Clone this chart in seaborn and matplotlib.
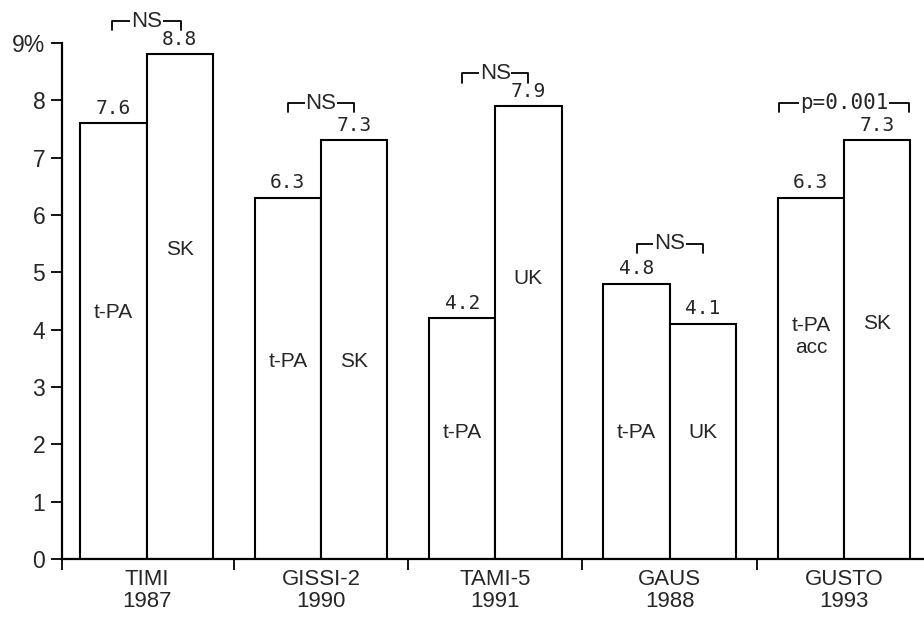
import matplotlib
matplotlib.use("Agg")
import matplotlib.pyplot as plt
import pandas as pd
import seaborn as sns

# data
trials = ["TIMI\n1987", "GISSI-2\n1990", "TAMI-5\n1991", "GAUS\n1988", "GUSTO\n1993"]
first_agent = ["t-PA", "t-PA", "t-PA", "t-PA", "t-PA\nacc"]
second_agent = ["SK", "SK", "UK", "UK", "SK"]
first_rate = [7.6, 6.3, 4.2, 4.8, 6.3]
second_rate = [8.8, 7.3, 7.9, 4.1, 7.3]
comparison = ["NS", "NS", "NS", "NS", "p=0.001"]
ytick_values = [0, 1, 2, 3, 4, 5, 6, 7, 8, 9]
ytick_labels = ["0", "1", "2", "3", "4", "5", "6", "7", "8", "9%"]

# layout only
first_label_y = [4.3, 3.45, 2.2, 2.2, 3.88]
second_label_y = [5.4, 3.45, 4.9, 2.2, 4.1]
bracket_y = [9.38, 7.95, 8.47, 5.5, 7.95]
bracket_half = [0.2, 0.19, 0.19, 0.19, 0.37]

SANS = ["Liberation Sans", "DejaVu Sans"]
MONO = ["DejaVu Sans Mono"]

sns.set_style("ticks")
plt.rcParams["font.family"] = SANS

df = pd.DataFrame({
    "trial": trials * 2,
    "arm": ["first"] * len(trials) + ["second"] * len(trials),
    "rate": first_rate + second_rate,
})

fig = plt.figure(figsize=(9.24, 6.2), dpi=100)
ax = fig.add_axes([0.0671, 0.0984, 0.935, 0.8322])

sns.barplot(
    data=df, x="trial", y="rate", hue="arm",
    palette=["white", "white"], saturation=1,
    edgecolor="black", linewidth=1.5,
    width=0.76, gap=0, errorbar=None, legend=False, ax=ax,
)

ax.set_ylim(0, 9)
ax.set_xlim(-0.485, 4.47)
sns.despine(ax=ax)
for side in ("left", "bottom"):
    ax.spines[side].set_linewidth(1.6)
    ax.spines[side].set_color("black")

ax.set_yticks(ytick_values)
ax.set_yticklabels(ytick_labels, fontsize=16.5)
ax.tick_params(axis="y", length=8, width=1.3, color="black", pad=4)

ax.set_xticks(range(len(trials)))
ax.set_xticklabels(trials, fontsize=16, linespacing=1.05)
ax.tick_params(axis="x", which="major", length=0, pad=7)
ax.set_xticks([ax.get_xlim()[0]] + [i + 0.5 for i in range(len(trials) - 1)], minor=True)
ax.tick_params(axis="x", which="minor", length=8, width=1.3, color="black")
ax.set_xlabel("")
ax.set_ylabel("")

# value labels on top of the bars
for cont in ax.containers:
    ax.bar_label(cont, fmt="%.1f", padding=4, fontsize=14, family=MONO)

# agent names inside the bars
for cont, names, ys in zip(ax.containers, [first_agent, second_agent], [first_label_y, second_label_y]):
    for patch, name, y in zip(cont.patches, names, ys):
        ax.text(patch.get_x() + patch.get_width() / 2, y, name,
                ha="center", va="center", fontsize=15, linespacing=1.15)

# comparison brackets
for i, (label, y, hw) in enumerate(zip(comparison, bracket_y, bracket_half)):
    drop = 0.16
    ax.plot([i - hw, i - hw, i + hw, i + hw], [y - drop, y, y, y - drop],
            color="black", lw=1.3, clip_on=False)
    mono = label.startswith("p")
    ax.text(i, y, label, ha="center", va="center", fontsize=15 if mono else 16,
            family=MONO if mono else SANS, clip_on=False,
            bbox=dict(facecolor="white", edgecolor="none", pad=0.5))

fig.savefig("out.png", dpi=100)
